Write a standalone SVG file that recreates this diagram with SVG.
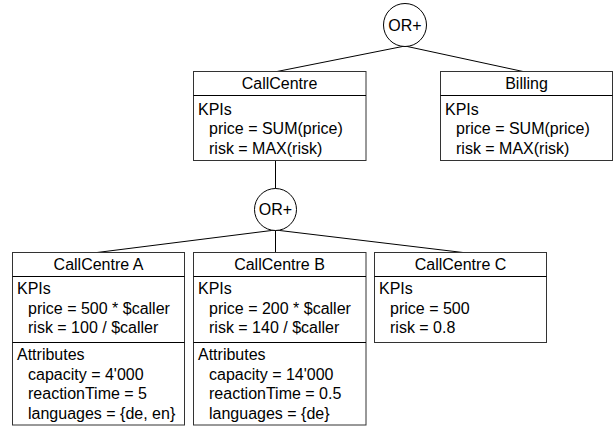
<svg xmlns="http://www.w3.org/2000/svg" width="615" height="428" viewBox="0 0 615 428">
<style>
text{font-family:"Liberation Sans",Arial,sans-serif;font-size:16px;fill:#000}
.box{fill:#fff;stroke:#333;stroke-width:1}
.sep{stroke:#000;stroke-width:1}
.hd{text-anchor:middle}
.or{fill:#fff;stroke:#000;stroke-width:1}
.c{stroke:#000;stroke-width:1;fill:none}
</style>
<g id="connectors">
<line class="c" x1="405" y1="46" x2="277" y2="71.5"/>
<line class="c" x1="405" y1="46" x2="523" y2="71.5"/>
<line class="c" x1="275.5" y1="160.5" x2="275.5" y2="189"/>
<line class="c" x1="275.5" y1="230" x2="97" y2="252.5"/>
<line class="c" x1="275.5" y1="230" x2="275.5" y2="252.5"/>
<line class="c" x1="275.5" y1="230" x2="463" y2="252.5"/>
</g>
<g id="or1">
<circle class="or" cx="405" cy="25" r="21.5"/>
<text class="hd" x="405" y="30.5">OR+</text>
</g>
<g id="or2">
<circle class="or" cx="275.5" cy="209.5" r="21"/>
<text class="hd" x="275.5" y="215">OR+</text>
</g>
<g id="callcentre">
<rect class="box" x="193.5" y="71.5" width="172.5" height="89"/>
<line class="sep" x1="193.5" y1="95.5" x2="366" y2="95.5"/>
<text class="hd" x="279.5" y="89">CallCentre</text>
<text x="198" y="114.5">KPIs</text>
<text x="209" y="134">price = SUM(price)</text>
<text x="209" y="153.5">risk = MAX(risk)</text>
</g>
<g id="billing">
<rect class="box" x="440.5" y="71.5" width="172" height="89"/>
<line class="sep" x1="440.5" y1="95.5" x2="612.5" y2="95.5"/>
<text class="hd" x="526.5" y="89">Billing</text>
<text x="445" y="114.5">KPIs</text>
<text x="456" y="134">price = SUM(price)</text>
<text x="456" y="153.5">risk = MAX(risk)</text>
</g>
<g id="callcentreA">
<rect class="box" x="12.5" y="252.5" width="172" height="172.5"/>
<line class="sep" x1="12.5" y1="276.5" x2="184.5" y2="276.5"/>
<line class="sep" x1="12.5" y1="342.5" x2="184.5" y2="342.5"/>
<text class="hd" x="98.5" y="270">CallCentre A</text>
<text x="17" y="294">KPIs</text>
<text x="28" y="313.5">price = 500 * $caller</text>
<text x="28" y="333">risk = 100 / $caller</text>
<text x="17" y="360">Attributes</text>
<text x="28" y="379.5">capacity = 4'000</text>
<text x="28" y="399">reactionTime = 5</text>
<text x="28" y="418.5">languages = {de, en}</text>
</g>
<g id="callcentreB">
<rect class="box" x="193.5" y="252.5" width="172.5" height="172.5"/>
<line class="sep" x1="193.5" y1="276.5" x2="366" y2="276.5"/>
<line class="sep" x1="193.5" y1="342.5" x2="366" y2="342.5"/>
<text class="hd" x="279.5" y="270">CallCentre B</text>
<text x="198" y="294">KPIs</text>
<text x="209" y="313.5">price = 200 * $caller</text>
<text x="209" y="333">risk = 140 / $caller</text>
<text x="198" y="360">Attributes</text>
<text x="209" y="379.5">capacity = 14'000</text>
<text x="209" y="399">reactionTime = 0.5</text>
<text x="209" y="418.5">languages =  {de}</text>
</g>
<g id="callcentreC">
<rect class="box" x="374.5" y="252.5" width="172" height="90"/>
<line class="sep" x1="374.5" y1="276.5" x2="546.5" y2="276.5"/>
<text class="hd" x="460.5" y="270">CallCentre C</text>
<text x="379" y="294">KPIs</text>
<text x="390" y="313.5">price = 500</text>
<text x="390" y="333">risk = 0.8</text>
</g>
</svg>
